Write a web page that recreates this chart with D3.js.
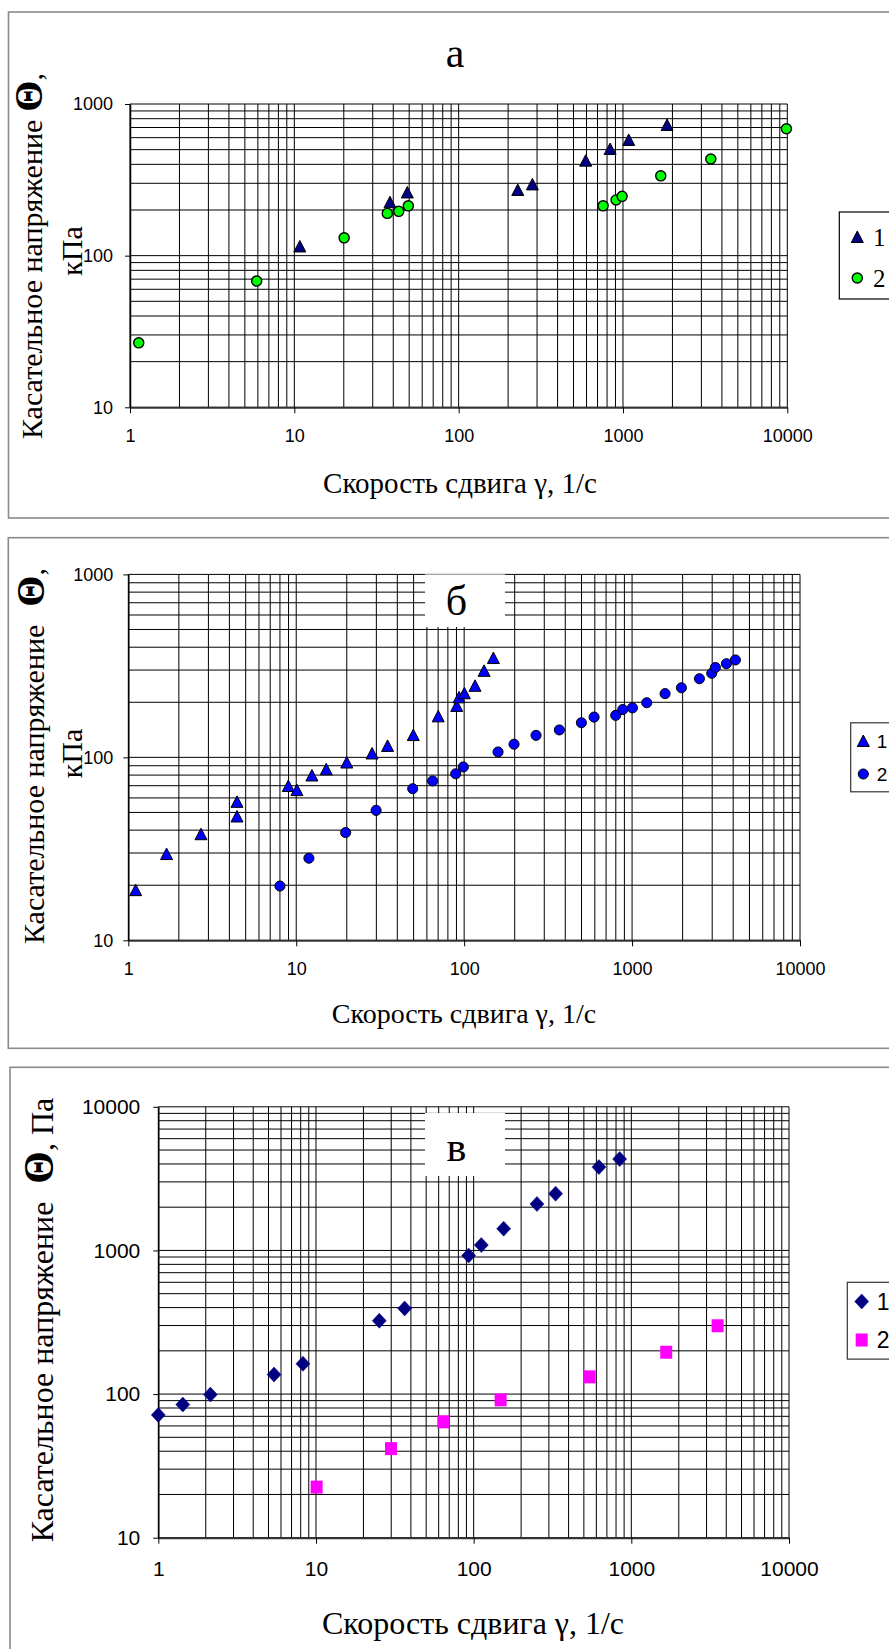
<!DOCTYPE html>
<html>
<head>
<meta charset="utf-8">
<script src="https://cdn.jsdelivr.net/npm/d3@7"></script>
<style>
  html, body { margin: 0; padding: 0; background: #fff; }
  svg { display: block; }
</style>
</head>
<body>
<svg id="chart" width="889" height="1649"></svg>
<script>
// ---------- data ----------
// Panel а
const rateA1 = [10.8, 38.2, 48.7, 229, 281, 593, 835, 1084, 1855];
const stressA1 = [115, 225, 261, 271, 295, 423, 505, 579, 727];
const rateA2 = [1.13, 5.9, 20.1, 36.8, 43.2, 49.4, 757, 908, 988, 1698, 3423, 9876];
const stressA2 = [26.6, 68, 131, 190, 196, 213, 213, 233, 246, 336, 434, 687];

// Panel б
const rateB1 = [1.106, 1.69, 2.71, 4.44, 4.44, 8.97, 10.1, 12.4, 15.1, 20.0, 28.3, 35.0, 49.8, 70.1, 90.3, 93.3, 100.3, 116.1, 131.4, 149.3];
const stressB1 = [18.8, 29.6, 38.0, 57.1, 47.5, 69.7, 66.2, 79.6, 86.0, 93.7, 105, 115.5, 132.4, 167.5, 191, 212.8, 224, 246, 297, 349];
const rateB2 = [8.0, 11.9, 19.7, 29.9, 49.4, 64.9, 89.1, 98.9, 159.2, 198.2, 268, 369, 499, 594, 799, 880, 1005, 1223, 1572, 1967, 2518, 2981, 3135, 3646, 4125];
const stressB2 = [19.8, 28.1, 38.8, 51.3, 67.4, 74.3, 81.3, 88.6, 107, 118, 131.9, 141.2, 154.5, 166, 169.7, 182.5, 186.4, 198.8, 223, 240, 269, 288, 310, 325, 340.7];

// Panel в
const rateC1 = [1.0, 1.43, 2.14, 5.42, 8.27, 25.2, 36.5, 92.9, 111.8, 155, 252, 331, 623, 843];
const stressC1 = [71.6, 84.5, 99.2, 136.7, 162.5, 324, 394.5, 921, 1089, 1418, 2105, 2486, 3802, 4324];
const rateC2 = [10.1, 29.9, 64.2, 148.3, 544, 1665, 3526];
const stressC2 = [22.5, 41.7, 64.1, 91.1, 131.8, 195.5, 299];

// Axis ticks and labels
const xTickValues = [1, 10, 100, 1000, 10000];
const yTicksKPa = [10, 100, 1000];
const yTicksPa = [10, 100, 1000, 10000];
const seriesNames = ["1", "2"];
const xTitle = "Скорость сдвига γ, 1/с";

// ---------- marker shapes ----------
const shapes = {
  triangle: "M0,-6L6,5.5L-6,5.5Z",
  circle: d3.symbol(d3.symbolCircle, 80)(),
  diamond: "M0,-7.5L7,0L0,7.5L-7,0Z",
  square: "M-6,-6.5H6V6.5H-6Z"
};

const svg = d3.select("#chart");
const serif = "'Liberation Serif', 'Times New Roman', serif";
const sans = "'Liberation Sans', Arial, sans-serif";

function drawPanel(cfg) {
  const g = svg.append("g");

  // outer frame (runs off the right edge of the page)
  g.append("rect")
    .attr("x", cfg.frame.x).attr("y", cfg.frame.y)
    .attr("width", 1000).attr("height", cfg.frame.h)
    .attr("fill", "none").attr("stroke", "#8a8a8a").attr("stroke-width", 1.6);

  const x = d3.scaleLog().domain([1, 10000]).range([cfg.plot.left, cfg.plot.right]);
  const y = d3.scaleLog().domain(cfg.yDomain).range([cfg.plot.bottom, cfg.plot.top]);

  // major + minor grid
  const grid = g.append("g").attr("stroke", "#000").attr("stroke-width", 1);
  grid.selectAll(".gv").data(x.ticks()).join("line").attr("class", "gv")
    .attr("x1", d => x(d)).attr("x2", d => x(d))
    .attr("y1", cfg.plot.top).attr("y2", cfg.plot.bottom);
  grid.selectAll(".gh").data(y.ticks()).join("line").attr("class", "gh")
    .attr("x1", cfg.plot.left).attr("x2", cfg.plot.right)
    .attr("y1", d => y(d)).attr("y2", d => y(d));

  // white box holding the panel letter
  if (cfg.titleBox) {
    g.append("rect")
      .attr("x", cfg.titleBox.x).attr("y", cfg.titleBox.y)
      .attr("width", cfg.titleBox.w).attr("height", cfg.titleBox.h)
      .attr("fill", "#fff");
  }
  g.append("text")
    .attr("x", cfg.title.x).attr("y", cfg.title.y)
    .attr("text-anchor", "middle")
    .attr("font-family", serif).attr("font-size", cfg.title.size)
    .text(cfg.title.text);

  // axes
  const xAxis = d3.axisBottom(x).tickValues(xTickValues).tickFormat(d3.format("d"))
    .tickSizeInner(6).tickSizeOuter(0).tickPadding(cfg.xPad);
  const gx = g.append("g").attr("transform", `translate(0,${cfg.plot.bottom})`).call(xAxis);
  gx.select(".domain").attr("stroke", "#333").attr("stroke-width", 2);
  gx.selectAll(".tick line").attr("stroke", "#000");

  const yAxis = d3.axisLeft(y).tickValues(cfg.yTicks).tickFormat(d3.format("d"))
    .tickSizeInner(5).tickSizeOuter(0).tickPadding(cfg.yPad);
  const gy = g.append("g").attr("transform", `translate(${cfg.plot.left},0)`).call(yAxis);
  gy.select(".domain").attr("stroke", "#000").attr("stroke-width", 1.5);
  gy.selectAll(".tick line").attr("stroke", "#000");

  [gx, gy].forEach(a => a.selectAll("text")
    .attr("font-family", sans).attr("font-size", cfg.tickSize).attr("fill", "#000"));

  // series
  cfg.series.forEach(s => {
    const pts = s.xs.map((v, i) => [v, s.ys[i]]);
    g.append("g").selectAll("path").data(pts).join("path")
      .attr("d", shapes[s.shape])
      .attr("transform", d => `translate(${x(d[0])},${y(d[1])})`)
      .attr("fill", s.fill)
      .attr("stroke", s.stroke)
      .attr("stroke-width", s.strokeWidth);
  });

  // axis titles
  g.append("text")
    .attr("x", cfg.xTitle.x).attr("y", cfg.xTitle.y)
    .attr("text-anchor", "middle")
    .attr("font-family", serif).attr("font-size", cfg.xTitle.size)
    .text(xTitle);

  cfg.yTitle.forEach(line => {
    const t = g.append("text")
      .attr("transform", `translate(${line.x},${line.cy}) rotate(-90)`)
      .attr("text-anchor", "middle")
      .attr("font-family", serif).attr("font-size", line.size);
    t.append("tspan").text(line.before);
    if (line.symbol) {
      t.append("tspan").attr("dx", line.gap).attr("font-family", serif)
        .attr("font-weight", "bold")
        .attr("font-size", line.symbolSize).text(line.symbol);
      t.append("tspan").attr("font-weight", "normal").text(line.after);
    }
  });

  // legend
  const L = cfg.legend;
  g.append("rect")
    .attr("x", L.x).attr("y", L.y).attr("width", 100).attr("height", L.h)
    .attr("fill", "#fff").attr("stroke", L.stroke).attr("stroke-width", 1.2);
  cfg.series.forEach((s, i) => {
    g.append("path")
      .attr("d", shapes[s.shape])
      .attr("transform", `translate(${L.mx},${L.my[i]})`)
      .attr("fill", s.fill).attr("stroke", s.stroke).attr("stroke-width", s.strokeWidth);
    g.append("text")
      .attr("x", L.tx).attr("y", L.my[i]).attr("dy", "0.35em")
      .attr("font-family", L.font).attr("font-size", L.size)
      .text(seriesNames[i]);
  });
}

// Panel а
drawPanel({
  frame: { x: 8.5, y: 12, h: 506 },
  plot: { left: 130, right: 787.3, top: 104, bottom: 407.3 },
  yDomain: [10, 1000], yTicks: yTicksKPa,
  tickSize: 18, xPad: 16, yPad: 12,
  title: { text: "а", x: 455, y: 66.7, size: 42 },
  xTitle: { x: 460, y: 493, size: 29 },
  yTitle: [
    { x: 42, cy: 256, size: 30, before: "Касательное напряжение", symbol: "Θ", symbolSize: 40, gap: 8, after: "," },
    { x: 82, cy: 251, size: 30, before: "кПа" }
  ],
  series: [
    { xs: rateA1, ys: stressA1, shape: "triangle", fill: "#000080", stroke: "#000", strokeWidth: 1 },
    { xs: rateA2, ys: stressA2, shape: "circle", fill: "#00ff00", stroke: "#000", strokeWidth: 1.4 }
  ],
  legend: { x: 839.3, y: 212, h: 87, mx: 857.3, my: [237, 278], tx: 873, size: 25, font: serif, stroke: "#000" }
});

// Panel б
drawPanel({
  frame: { x: 8.3, y: 537.7, h: 510.6 },
  plot: { left: 128.3, right: 800, top: 574.4, bottom: 940.3 },
  yDomain: [10, 1000], yTicks: yTicksKPa,
  tickSize: 18, xPad: 16, yPad: 10,
  titleBox: { x: 425, y: 574.4, w: 80, h: 52.6 },
  title: { text: "б", x: 456.5, y: 615, size: 42 },
  xTitle: { x: 464, y: 1023, size: 28 },
  yTitle: [
    { x: 44, cy: 756, size: 30, before: "Касательное напряжение", symbol: "Θ", symbolSize: 40, gap: 18, after: "," },
    { x: 82, cy: 753.5, size: 30, before: "кПа" }
  ],
  series: [
    { xs: rateB1, ys: stressB1, shape: "triangle", fill: "#0000ff", stroke: "#000", strokeWidth: 1 },
    { xs: rateB2, ys: stressB2, shape: "circle", fill: "#0000ff", stroke: "#000", strokeWidth: 1 }
  ],
  legend: { x: 850.7, y: 722.8, h: 69, mx: 863.3, my: [741, 774], tx: 876.7, size: 19, font: sans, stroke: "#333" }
});

// Panel в
drawPanel({
  frame: { x: 10, y: 1067.3, h: 700 },
  plot: { left: 158.3, right: 789, top: 1106.8, bottom: 1537.7 },
  yDomain: [10, 10000], yTicks: yTicksPa,
  tickSize: 21, xPad: 17, yPad: 13,
  titleBox: { x: 425, y: 1113, w: 80, h: 63 },
  title: { text: "в", x: 456.4, y: 1161.4, size: 42 },
  xTitle: { x: 473, y: 1634, size: 32 },
  yTitle: [
    { x: 53, cy: 1320, size: 32, before: "Касательное напряжение", symbol: "Θ", symbolSize: 42, gap: 18, after: ", Па" }
  ],
  series: [
    { xs: rateC1, ys: stressC1, shape: "diamond", fill: "#000080", stroke: "#000080", strokeWidth: 0.5 },
    { xs: rateC2, ys: stressC2, shape: "square", fill: "#ff00ff", stroke: "none", strokeWidth: 0 }
  ],
  legend: { x: 847.3, y: 1282.3, h: 76.8, mx: 861.7, my: [1301.5, 1340], tx: 876.7, size: 23, font: sans, stroke: "#333" }
});
</script>
</body>
</html>
